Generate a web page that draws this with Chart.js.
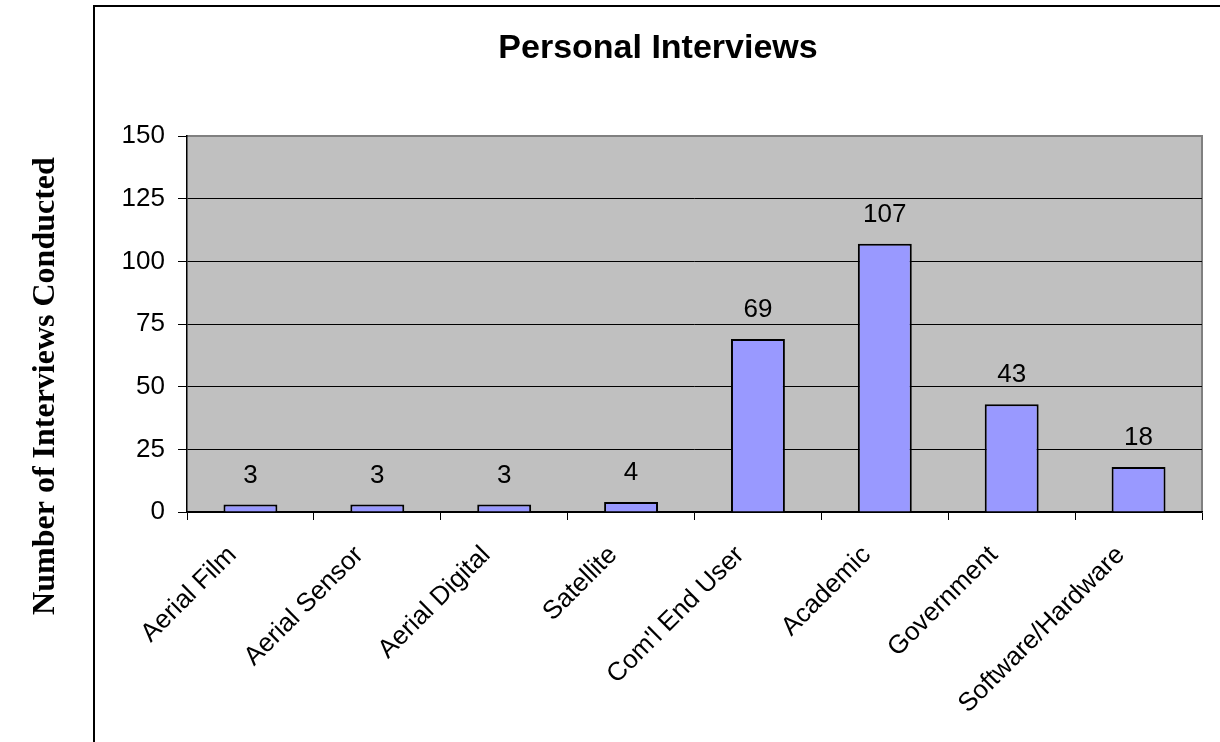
<!DOCTYPE html>
<html>
<head>
<meta charset="utf-8">
<script src="https://cdn.jsdelivr.net/npm/chart.js@4/dist/chart.umd.min.js"></script>
<style>
  html, body { margin: 0; padding: 0; background: #fff; }
  #wrap { width: 1220px; height: 742px; }
</style>
</head>
<body>
<div id="wrap"><canvas id="interviewChart" width="1220" height="742"></canvas></div>
<script>
// data
var categories = ["Aerial Film", "Aerial Sensor", "Aerial Digital", "Satellite", "Com'l End User", "Academic", "Government", "Software/Hardware"];
var interviews = [3, 3, 3, 4, 69, 107, 43, 18];
var yTicks = [0, 25, 50, 75, 100, 125, 150];

var chartTitle = "Personal Interviews";
var yTitle = "Number of Interviews Conducted";

Chart.defaults.font.family = 'Arial, "Liberation Sans", sans-serif';
Chart.defaults.font.size = 26;
Chart.defaults.color = '#000';

// frame, plot background, titles, value labels
var framePlugin = {
  id: 'frame',
  beforeDraw: function (chart) {
    var ctx = chart.ctx, a = chart.chartArea;
    ctx.save();
    ctx.fillStyle = '#fff';
    ctx.fillRect(0, 0, chart.width, chart.height);
    ctx.strokeStyle = '#000';
    ctx.lineWidth = 2;
    ctx.strokeRect(94, 6, 1300, 900);
    ctx.fillStyle = '#c0c0c0';
    ctx.fillRect(a.left, a.top, a.right - a.left, a.bottom - a.top);
    ctx.strokeStyle = '#808080';
    ctx.lineWidth = 2;
    ctx.beginPath();
    ctx.moveTo(a.left, a.top);
    ctx.lineTo(a.right, a.top);
    ctx.lineTo(a.right, a.bottom);
    ctx.stroke();

    ctx.fillStyle = '#000';
    ctx.textAlign = 'center';
    ctx.textBaseline = 'middle';
    ctx.font = 'bold 34px Arial, "Liberation Sans", sans-serif';
    ctx.fillText(chartTitle, 658, 49);

    ctx.translate(46, 386);
    ctx.rotate(-Math.PI / 2);
    ctx.font = 'bold 32px "Times New Roman", "Liberation Serif", serif';
    ctx.fillText(yTitle, 0, 0);
    ctx.restore();
  },
  afterDatasetsDraw: function (chart) {
    var ctx = chart.ctx;
    var meta = chart.getDatasetMeta(0);
    ctx.save();
    ctx.fillStyle = '#000';
    ctx.font = '26px Arial, "Liberation Sans", sans-serif';
    ctx.textAlign = 'center';
    ctx.textBaseline = 'bottom';
    meta.data.forEach(function (bar, i) {
      ctx.fillText(String(interviews[i]), bar.x, bar.y - 16);
    });
    ctx.restore();
  }
};

var interviewChart = new Chart(document.getElementById('interviewChart'), {
  type: 'bar',
  plugins: [framePlugin],
  data: {
    labels: categories,
    datasets: [{
      data: interviews,
      backgroundColor: '#9999ff',
      borderColor: '#000',
      borderWidth: 2,
      barPercentage: 1,
      categoryPercentage: 0.425
    }]
  },
  options: {
    responsive: false,
    animation: false,
    layout: {
      padding: { top: 136, right: 18, left: 0, bottom: 0 }
    },
    plugins: {
      legend: { display: false },
      title: { display: false },
      tooltip: { enabled: false }
    },
    scales: {
      y: {
        min: 0,
        max: 150,
        afterFit: function (scale) { scale.width = 187; },
        afterBuildTicks: function (scale) {
          scale.ticks = yTicks.map(function (v) { return { value: v }; });
        },
        ticks: { padding: 13, font: { size: 26 } },
        grid: {
          color: function (c) { return c.tick && c.tick.value === 150 ? '#808080' : '#000'; },
          tickColor: '#000',
          lineWidth: 1,
          tickLength: 9
        },
        border: { color: '#000', width: 1.5 }
      },
      x: {
        afterFit: function (scale) { scale.height = 230; },
        ticks: {
          minRotation: 45,
          maxRotation: 45,
          padding: 20,
          labelOffset: -18,
          font: { size: 26 }
        },
        grid: {
          offset: true,
          drawOnChartArea: false,
          color: '#000',
          tickLength: 8
        },
        border: { color: '#000', width: 1.5 }
      }
    }
  }
});
</script>
</body>
</html>
